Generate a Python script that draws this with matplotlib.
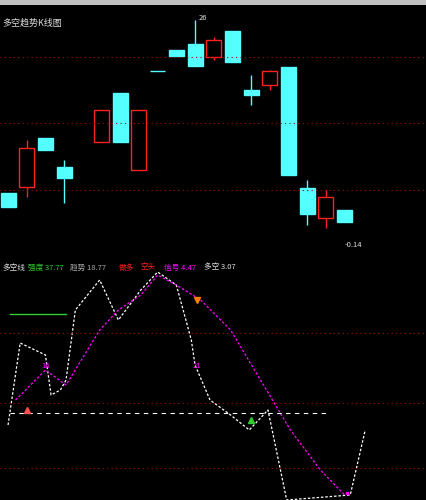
import matplotlib.pyplot as plt
import numpy as np

plt.rcParams['font.family'] = ['Noto Sans CJK SC', 'DejaVu Sans']

# top panel candles (slot index, open, close, high, low) in price units
slots = [0, 1, 2, 3, 5, 6, 7, 8, 9, 10, 11, 12, 13, 14, 15, 16, 17, 18]
opens = [-193, -187, -138, -167, -142, -93, -170, -71, -50, -44, -57, -31, -90, -85, -67, -188, -218, -210]
closes = [-207, -148, -150, -178, -110, -142, -110, -71, -56, -66, -40, -62, -95, -71, -175, -214, -197, -222]
highs = [-193, -140, -138, -160, -110, -93, -110, -71, -50, -20, -37, -31, -75, -70, -67, -180, -190, -210]
lows = [-207, -197, -150, -203, -142, -142, -170, -71, -56, -66, -60, -62, -105, -90, -175, -225, -228, -222]

# bottom indicator lines
white_x = [0, 0.65, 2, 2.3, 2.8, 3.1, 3.6, 4.9, 5.9, 7.1, 8.0, 9.0, 9.8, 10.0, 10.8, 11.9, 12.9, 13.9, 14.9, 18.3, 19.1]
white_y = [-425, -343, -355, -395, -390, -380, -310, -280, -320, -290, -272, -285, -340, -365, -400, -415, -430, -410, -500, -495, -430]
mag_x = [0.4, 2, 3.1, 4.9, 5.9, 7.1, 8.0, 9.0, 10.3, 11.9, 13.5, 15.1, 16.7, 18.0]
mag_y = [-400, -370, -385, -330, -310, -295, -275, -285, -300, -330, -380, -430, -470, -495]
green_x = [0.1, 3.1]
green_y = [-314, -314]

fig = plt.figure(figsize=(4.26, 5.0), dpi=100, facecolor='black')
ax1 = fig.add_axes([0, 0.5, 1, 0.47], facecolor='black')
ax2 = fig.add_axes([0, 0, 1, 0.49], facecolor='black')
bar = fig.add_axes([0, 0.99, 1, 0.01], facecolor='#b0b0b0')
bar.set_axis_off()
bar.add_patch(plt.Rectangle((0, 0), 1, 1, color='#c0c0c0', transform=bar.transAxes))

for s, o, c, h, l in zip(slots, opens, closes, highs, lows):
    up = c > o
    col = '#ff2020' if up else '#55ffff'
    lo, hi = min(o, c), max(o, c)
    if up:
        ax1.vlines(s, l, lo, color=col, lw=1)
        ax1.vlines(s, hi, h, color=col, lw=1)
    else:
        ax1.vlines(s, l, h, color=col, lw=1)
    if hi - lo < 1:
        ax1.hlines(lo, s - 0.4, s + 0.4, color=col, lw=1)
    else:
        ax1.bar(s, hi - lo, bottom=lo, width=0.8, color='black' if up else col,
                edgecolor=col, linewidth=1)

for y in [-57, -123, -190]:
    ax1.axhline(y, color='#aa0000', ls=(0, (1, 3)), lw=0.8)
ax1.set_xlim(-0.43, 22.35)
ax1.set_ylim(-250, -15)
ax1.set_axis_off()
ax1.text(0.005, 0.985, '多空趋势K线图', transform=ax1.transAxes, color='#dddddd',
         fontsize=6.5, va='top')
ax1.text(18.0, -247, '-0.14', color='#dddddd', fontsize=5.5)
ax1.text(10.2, -20, '26', color='#dddddd', fontsize=5.5)

ax2.plot(white_x, white_y, color='white', lw=0.9, ls=(0, (2, 1.5)))
ax2.plot(mag_x, mag_y, color='#ff00ff', lw=0.9, ls=(0, (2, 1.5)))
ax2.plot(green_x, green_y, color='#33cc33', lw=1)
ax2.hlines(-413, 0.1, 17.2, color='white', lw=0.8, ls=(0, (4, 4)))
for y in [-333, -403, -468]:
    ax2.axhline(y, color='#aa0000', ls=(0, (1, 3)), lw=0.8)
ax2.text(2.0, -368, '16', color='#ff00ff', fontsize=5.5, ha='center')
ax2.text(10.1, -368, '21', color='#ff00ff', fontsize=5.5, ha='center')
ax2.plot(1.0, -410, marker='^', color='#ff5050', ms=4)
ax2.plot(10.1, -300, marker='v', color='#ff8000', ms=4)
ax2.plot(13.0, -420, marker='^', color='#33cc33', ms=4)
ax2.plot(18.1, -493, marker='s', color='#ff00ff', ms=2)
ax2.set_xlim(-0.43, 22.35)
ax2.set_ylim(-500, -255)
ax2.set_axis_off()
labels = [('多空线', '#dddddd', 0.005), ('强度 37.77', '#33cc33', 0.065), ('趋势 18.77', '#aaaaaa', 0.165),
          ('做多', '#ff2020', 0.28), ('空头', '#ff2020', 0.33), ('信号 4.47', '#ff00ff', 0.385),
          ('多空 3.07', '#dddddd', 0.48)]
for t, c, x in labels:
    ax2.text(x, 0.965, t, transform=ax2.transAxes, color=c, fontsize=5.5, va='top')

fig.savefig('out.png', dpi=100, facecolor='black')
